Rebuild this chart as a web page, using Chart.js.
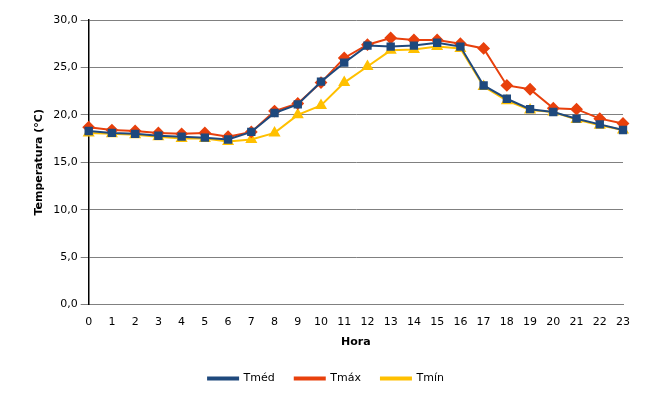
<!DOCTYPE html>
<html><head><meta charset="utf-8">
<script src="https://cdn.jsdelivr.net/npm/chart.js@4"></script>
<style>body{margin:0;background:#fff}#w{width:669px;height:400px}</style>
</head><body><div id="w"><canvas id="c"></canvas></div>
<script>
const horas = ['0','1','2','3','4','5','6','7','8','9','10','11','12','13','14','15','16','17','18','19','20','21','22','23'];
const tmed = [18.3,18.1,18.0,17.8,17.7,17.6,17.4,18.2,20.2,21.1,23.5,25.5,27.3,27.2,27.3,27.6,27.2,23.1,21.7,20.6,20.3,19.6,19.0,18.4];
const tmax = [18.7,18.4,18.3,18.1,18.0,18.1,17.7,18.2,20.4,21.2,23.4,26.0,27.4,28.1,27.9,27.9,27.5,27.0,23.1,22.7,20.7,20.6,19.6,19.1];
const tmin = [18.1,18.0,17.9,17.7,17.5,17.5,17.2,17.4,18.1,20.0,21.0,23.4,25.1,26.8,26.9,27.2,27.0,23.0,21.5,20.5,20.3,19.5,18.9,18.4];

Chart.defaults.font.family = 'DejaVu Sans';
Chart.defaults.font.size = 11;
Chart.defaults.color = '#000';

function ds(label, data, color, style, r) {
  return { label, data, borderColor: color, backgroundColor: color, pointStyle: style, pointRadius: r, pointHoverRadius: r, borderWidth: 2, tension: 0 };
}

new Chart(document.getElementById('c'), {
  type: 'line',
  data: { labels: horas, datasets: [
    ds('Tméd', tmed, '#1F497D', 'rect', 4.5),
    ds('Tmáx', tmax, '#E8400C', 'rectRot', 5),
    ds('Tmín', tmin, '#FFC000', 'triangle', 5)
  ] },
  options: {
    responsive: true, maintainAspectRatio: false, animation: false,
    layout: { padding: { left: 29, right: 46, top: 20, bottom: 6 } },
    plugins: {
      legend: { position: 'bottom', labels: { boxWidth: 30, boxHeight: 2, padding: 20 } },
      tooltip: { enabled: false }
    },
    scales: {
      x: { offset: false, grid: { display: false }, border: { color: '#808080' },
        ticks: { maxRotation: 0, autoSkip: false },
        title: { display: true, text: 'Hora', font: { weight: 'bold' }, padding: { top: 4 } } },
      y: { min: 0, max: 30, grid: { color: '#808080' }, border: { color: '#000', width: 1.5 },
        ticks: { stepSize: 5, callback: v => v.toFixed(1).replace('.', ',') },
        title: { display: true, text: 'Temperatura (°C)', font: { weight: 'bold' } } }
    }
  }
});
</script></body></html>
